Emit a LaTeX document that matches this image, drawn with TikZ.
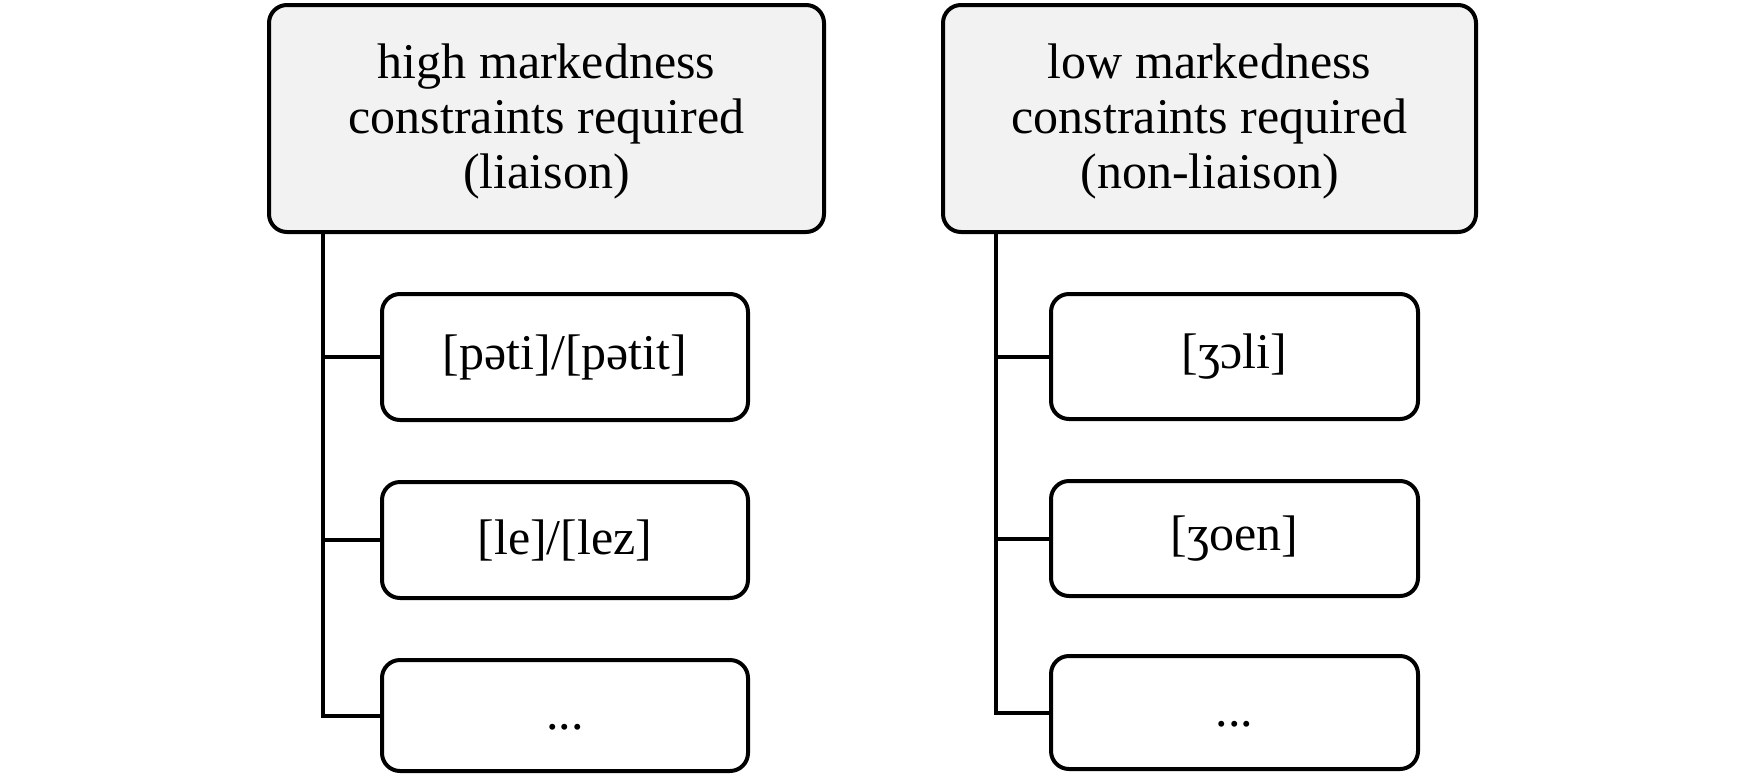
\documentclass[tikz,border=0pt]{standalone}
\usepackage{fontspec}
\setmainfont{Liberation Serif}
\begin{document}
\begin{tikzpicture}[x=1pt,y=-1pt,
  box/.style={draw=black, line width=4pt, rounded corners=18pt, align=center, inner sep=0pt,
    font=\fontsize{50}{55}\selectfont},
  head/.style={box, fill=gray!10},
  conn/.style={draw=black, line width=4pt}]
\useasboundingbox (0,0) rectangle (1745,777);
\node[head, minimum width=555pt, minimum height=227pt] (h1) at (546.5,118.5)
  {\rule{0pt}{41pt}high markedness\\constraints required\\(liaison)};
\node[head, minimum width=533pt, minimum height=227pt] (h2) at (1209.5,118.5)
  {\rule{0pt}{41pt}low markedness\\constraints required\\(non-liaison)};
\node[box, minimum width=366pt, minimum height=126pt] (a1) at (565,357) {[pəti]/[pətit]};
\node[box, minimum width=366pt, minimum height=116pt] (a2) at (565,540) {[le]/[lez]};
\node[box, minimum width=366pt, minimum height=111pt] (a3) at (565,715.5) {\vphantom{[]}...};
\node[box, minimum width=367pt, minimum height=125pt] (b1) at (1234.5,356.5) {[ʒɔli]};
\node[box, minimum width=367pt, minimum height=115pt] (b2) at (1234.5,538.5) {[ʒoen]};
\node[box, minimum width=367pt, minimum height=113pt] (b3) at (1234.5,712.5) {\vphantom{[]}...};
\coordinate (t1) at (323,0);
\coordinate (t2) at (996,0);
\draw[conn] (t1 |- h1.south) |- (a3.west);
\draw[conn] (t1 |- a1.west) -- (a1.west);
\draw[conn] (t1 |- a2.west) -- (a2.west);
\draw[conn] (t2 |- h2.south) |- (b3.west);
\draw[conn] (t2 |- b1.west) -- (b1.west);
\draw[conn] (t2 |- b2.west) -- (b2.west);
\end{tikzpicture}
\end{document}
